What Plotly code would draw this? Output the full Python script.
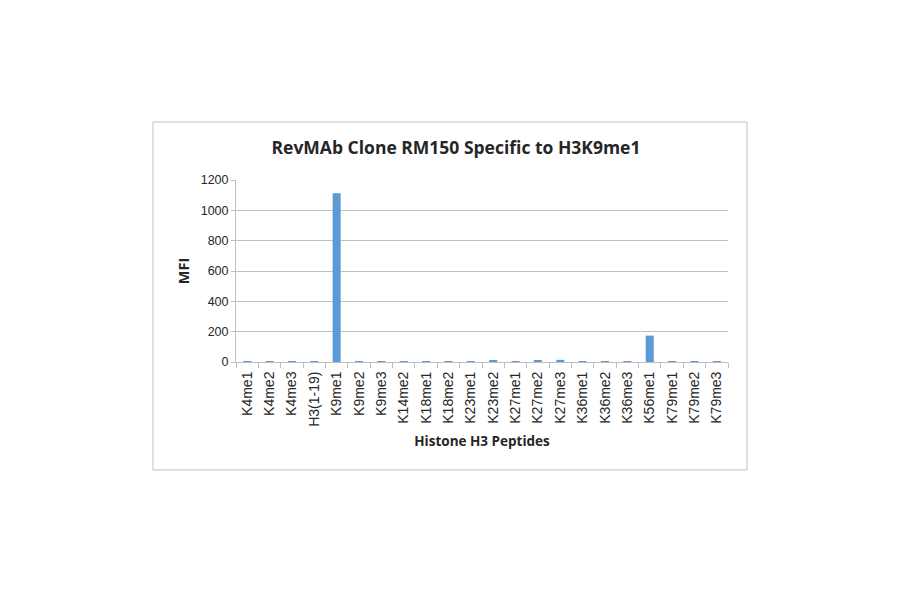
import plotly.graph_objects as go

peptides = [
    "K4me1", "K4me2", "K4me3", "H3(1-19)", "K9me1", "K9me2", "K9me3", "K14me2",
    "K18me1", "K18me2", "K23me1", "K23me2", "K27me1", "K27me2", "K27me3",
    "K36me1", "K36me2", "K36me3", "K56me1", "K79me1", "K79me2", "K79me3",
]
mfi = [3, 3, 3, 3, 1112, 3, 3, 3, 3, 3, 3, 9, 3, 8, 14, 3, 3, 3, 174, 3, 3, 3]
y_ticks = [0, 200, 400, 600, 800, 1000, 1200]

BAR = "#5b9bd5"
GRID = "#bfbfbf"
DARK = "#262626"

fig = go.Figure()
fig.add_trace(go.Bar(
    x=peptides,
    y=mfi,
    marker={"color": BAR, "line": {"width": 0}},
    width=0.36,
))

# outer chart frame, in paper coords relative to the plot area
fig.add_shape(
    type="rect", xref="paper", yref="paper",
    x0=-0.1687, x1=1.0386, y0=-0.593, y1=1.3187,
    line={"color": "#c0c0c0", "width": 1},
    fillcolor="rgba(0,0,0,0)",
)

# page renders with an 8px body offset, so margins are shifted up/left
fig.update_layout(
    width=900,
    height=594,
    paper_bgcolor="white",
    plot_bgcolor="white",
    showlegend=False,
    margin={"l": 228, "r": 180, "t": 172, "b": 240},
    title={
        "text": "<b>RevMAb Clone RM150 Specific to H3K9me1</b>",
        "x": (456 - 8) / 900,
        "xanchor": "center",
        "y": 1 - (148 - 8) / 594,
        "yanchor": "middle",
        "font": {"family": "Open Sans", "size": 17.5, "color": DARK},
    },
    font={"family": "Liberation Sans", "size": 12, "color": DARK},
    xaxis={
        "tickangle": -90,
        "tickson": "boundaries",
        "ticks": "outside",
        "ticklen": 5,
        "tickcolor": GRID,
        "ticklabelstandoff": 3,
        "showline": True,
        "linecolor": GRID,
        "showgrid": False,
        "tickfont": {"family": "Liberation Sans", "size": 14, "color": DARK},
        "title": {
            "text": "<b>Histone H3 Peptides</b>",
            "font": {"family": "Open Sans", "size": 13.5, "color": DARK},
            "standoff": 10,
        },
    },
    yaxis={
        "range": [0, 1200],
        "tickvals": y_ticks,
        "ticks": "outside",
        "ticklen": 4,
        "tickcolor": GRID,
        "showline": True,
        "linecolor": GRID,
        "showgrid": True,
        "gridcolor": GRID,
        "zeroline": False,
        "tickfont": {"family": "Liberation Sans", "size": 12.5, "color": DARK},
        "title": {
            "text": "<b>MFI</b>",
            "font": {"family": "Open Sans", "size": 14.5, "color": DARK},
            "standoff": 7,
        },
    },
)

fig.write_html("out.html")
